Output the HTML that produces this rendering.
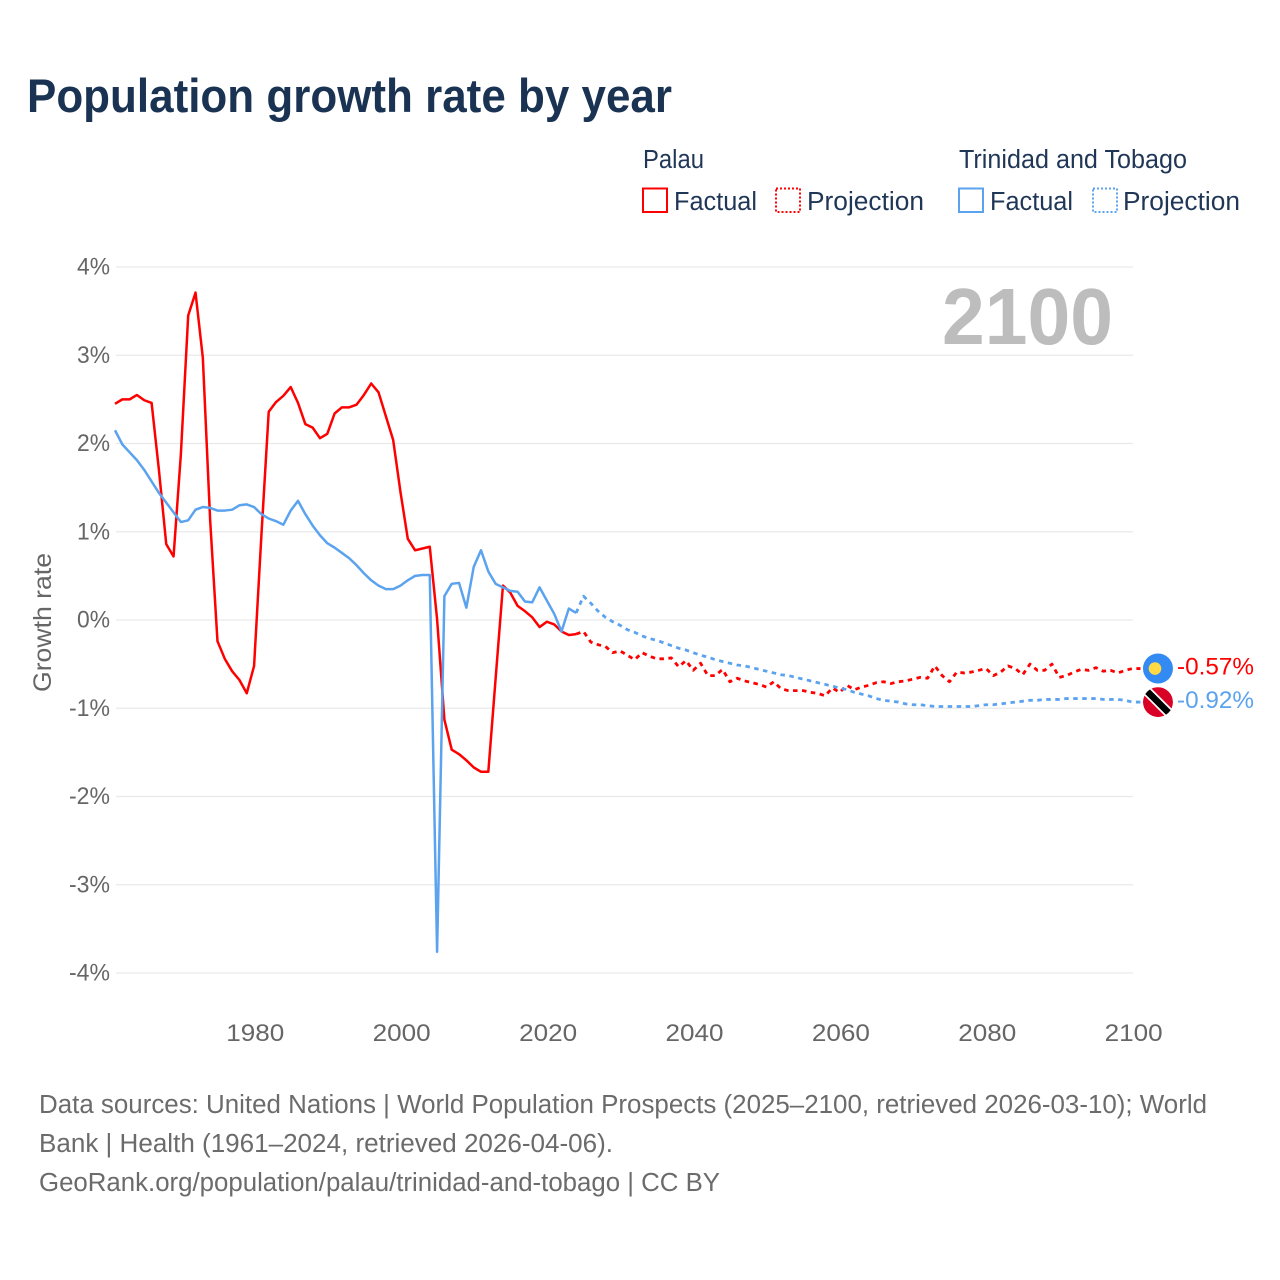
<!DOCTYPE html>
<html lang="en">
<head>
<meta charset="utf-8">
<title>Population growth rate by year</title>
<style>
html,body{margin:0;padding:0;background:#fff;width:1280px;height:1280px;overflow:hidden}
svg{display:block;font-family:"Liberation Sans",sans-serif}
</style>
</head>
<body>
<svg id="chart" xmlns="http://www.w3.org/2000/svg" width="1280" height="1280" viewBox="0 0 1280 1280">
  <rect x="0" y="0" width="1280" height="1280" fill="#ffffff"/>
  <text x="27" y="112" font-size="47" font-weight="700" fill="#1a3353" textLength="645" lengthAdjust="spacingAndGlyphs">Population growth rate by year</text>

  <g font-size="25.5" fill="#1f3656">
    <text x="643" y="168" textLength="61" lengthAdjust="spacingAndGlyphs">Palau</text>
    <text x="959" y="168" textLength="228" lengthAdjust="spacingAndGlyphs">Trinidad and Tobago</text>
    <g>
      <rect x="643" y="188.500" width="24" height="23.500" fill="none" stroke="#ff0000" stroke-width="2"/>
      <text x="674" y="210" textLength="83" lengthAdjust="spacingAndGlyphs">Factual</text>
    </g>
    <g>
      <rect x="776" y="188.500" width="24" height="23.500" fill="none" stroke="#ff0000" stroke-width="2" stroke-dasharray="2 2"/>
      <text x="807" y="210" textLength="117" lengthAdjust="spacingAndGlyphs">Projection</text>
    </g>
    <g>
      <rect x="959" y="188.500" width="24" height="23.500" fill="none" stroke="#5ba3ee" stroke-width="2"/>
      <text x="990" y="210" textLength="83" lengthAdjust="spacingAndGlyphs">Factual</text>
    </g>
    <g>
      <rect x="1093" y="188.500" width="24" height="23.500" fill="none" stroke="#5ba3ee" stroke-width="2" stroke-dasharray="2 2"/>
      <text x="1123" y="210" textLength="117" lengthAdjust="spacingAndGlyphs">Projection</text>
    </g>
  </g>

  <g id="grid"></g>
  <g id="yticks" font-size="24" fill="#666666"></g>
  <g id="xticks" font-size="24" fill="#666666"></g>
  <text transform="translate(51 692) rotate(-90)" font-size="25" fill="#666666" textLength="139" lengthAdjust="spacingAndGlyphs">Growth rate</text>
  <text x="942" y="344" font-size="80" font-weight="700" fill="#bdbdbd" textLength="171" lengthAdjust="spacingAndGlyphs">2100</text>

  <g id="series"></g>

  <g id="end-markers"></g>

  <g font-size="25.500" fill="#6b6b6b">
    <text x="39" y="1113" textLength="1168" lengthAdjust="spacingAndGlyphs">Data sources: United Nations | World Population Prospects (2025–2100, retrieved 2026-03-10); World</text>
    <text x="39" y="1152" textLength="574" lengthAdjust="spacingAndGlyphs">Bank | Health (1961–2024, retrieved 2026-04-06).</text>
    <text x="39" y="1191" textLength="681" lengthAdjust="spacingAndGlyphs">GeoRank.org/population/palau/trinidad-and-tobago | CC BY</text>
  </g>
</svg>
<script>
const factualStartYear = 1961;
const projectionStartYear = 2025;
const xTickYears = [1980, 2000, 2020, 2040, 2060, 2080, 2100];
const yTickValues = [4, 3, 2, 1, 0, -1, -2, -3, -4];

const palauFactual = [
  2.45,2.50,2.50,2.55,2.49,2.46,1.70,0.86,0.72,1.88,
  3.45,3.71,2.97,1.13,-0.24,-0.44,-0.58,-0.68,-0.83,-0.52,
  0.96,2.36,2.47,2.54,2.64,2.46,2.22,2.18,2.06,2.11,
  2.34,2.41,2.41,2.44,2.55,2.68,2.58,2.31,2.04,1.45,
  0.92,0.79,0.81,0.83,0.01,-1.13,-1.47,-1.52,-1.59,-1.67,
  -1.72,-1.72,-0.66,0.39,0.31,0.16,0.10,0.03,-0.08,-0.02,
  -0.05,-0.13,-0.17,-0.16
];
const palauProjection = [
  -0.13,-0.25,-0.28,-0.30,-0.37,-0.35,-0.40,-0.45,-0.37,-0.41,
  -0.44,-0.44,-0.43,-0.53,-0.46,-0.57,-0.49,-0.63,-0.63,-0.56,
  -0.70,-0.66,-0.69,-0.71,-0.73,-0.76,-0.70,-0.78,-0.80,-0.80,
  -0.80,-0.82,-0.83,-0.86,-0.77,-0.82,-0.74,-0.79,-0.76,-0.74,
  -0.71,-0.70,-0.72,-0.70,-0.69,-0.67,-0.65,-0.66,-0.52,-0.63,
  -0.70,-0.59,-0.60,-0.59,-0.57,-0.55,-0.63,-0.59,-0.52,-0.55,
  -0.62,-0.50,-0.57,-0.57,-0.50,-0.65,-0.63,-0.59,-0.56,-0.57,
  -0.54,-0.58,-0.57,-0.60,-0.57,-0.55
];
const ttFactual = [
  2.15,1.99,1.90,1.81,1.70,1.57,1.44,1.33,1.22,1.11,
  1.13,1.25,1.28,1.27,1.24,1.24,1.25,1.30,1.31,1.28,
  1.20,1.15,1.12,1.08,1.24,1.35,1.20,1.07,0.96,0.87,
  0.82,0.76,0.70,0.62,0.53,0.45,0.39,0.35,0.35,0.39,
  0.45,0.50,0.51,0.51,-3.76,0.27,0.41,0.42,0.14,0.60,
  0.79,0.55,0.41,0.37,0.33,0.32,0.21,0.20,0.37,0.22,
  0.07,-0.13,0.13,0.08
];
const ttProjection = [
  0.27,0.19,0.10,0.03,-0.02,-0.06,-0.11,-0.14,-0.18,-0.21,
  -0.23,-0.26,-0.29,-0.32,-0.34,-0.37,-0.40,-0.42,-0.45,-0.47,
  -0.49,-0.51,-0.52,-0.54,-0.56,-0.58,-0.60,-0.62,-0.63,-0.65,
  -0.67,-0.69,-0.71,-0.73,-0.75,-0.77,-0.79,-0.82,-0.84,-0.86,
  -0.89,-0.91,-0.92,-0.93,-0.95,-0.96,-0.96,-0.97,-0.98,-0.98,
  -0.98,-0.98,-0.98,-0.98,-0.97,-0.96,-0.96,-0.95,-0.94,-0.93,
  -0.92,-0.91,-0.91,-0.90,-0.90,-0.90,-0.89,-0.89,-0.89,-0.89,
  -0.89,-0.90,-0.90,-0.90,-0.91,-0.93
];
const palauEndLabel = '-0.57%';
const ttEndLabel = '-0.92%';

const SVGNS = 'http://www.w3.org/2000/svg';
function xScale(year) { return 115 + (year - 1961) * 7.32; }
function yScale(value) { return 620 - value * 88.25; }
function make(tag, attrs, parent) {
  const el = document.createElementNS(SVGNS, tag);
  for (const k in attrs) el.setAttribute(k, attrs[k]);
  parent.appendChild(el);
  return el;
}
function pathFrom(startYear, values) {
  return values.map((v, i) => (i ? 'L' : 'M') + xScale(startYear + i).toFixed(2) + ' ' + yScale(v).toFixed(2)).join(' ');
}

const gridG = document.getElementById('grid');
const yG = document.getElementById('yticks');
yTickValues.forEach(function (v) {
  const line = make('line', {x1: 116, x2: 1133, y1: yScale(v), y2: yScale(v), stroke: '#e9e9e9', 'stroke-width': 1.3}, gridG);
  
  
  const t = make('text', {x: 110, y: yScale(v) + 7.5, 'text-anchor': 'end', textLength: v < 0 ? 41 : 33, lengthAdjust: 'spacingAndGlyphs'}, yG);
  
  
  t.textContent = v + '%';
});

const xG = document.getElementById('xticks');
xTickYears.forEach(function (yr) {
  const t = make('text', {x: xScale(yr) + 1.2, y: 1041, 'text-anchor': 'middle', textLength: 58, lengthAdjust: 'spacingAndGlyphs'}, xG);
  
  
  t.textContent = yr;
});

const seriesG = document.getElementById('series');
function drawSeries(key, color, factual, projection) {
  const solid = make('path', {d: pathFrom(factualStartYear, factual), fill: 'none', stroke: color, 'stroke-width': 2.5, 'stroke-linejoin': 'round'}, seriesG);
  
  
  const lastFactual = factual[factual.length - 1];
  const joined = [lastFactual].concat(projection);
  const lastValue = projection[projection.length - 1];
  const d = pathFrom(projectionStartYear - 1, joined) + ' L' + (xScale(projectionStartYear + projection.length - 1) + 8).toFixed(2) + ' ' + yScale(lastValue).toFixed(2);
  const dashed = make('path', {d: d, fill: 'none', stroke: color, 'stroke-width': 2.8, 'stroke-dasharray': '4.5 4.5', 'stroke-linejoin': 'round'}, seriesG);
  
  
}
drawSeries('palau', '#ff0000', palauFactual, palauProjection);
drawSeries('trinidad-and-tobago', '#5ba3ee', ttFactual, ttProjection);

const endG = document.getElementById('end-markers');
const palauY = yScale(palauProjection[palauProjection.length - 1]);
const ttY = yScale(ttProjection[ttProjection.length - 1]);
const flagX = xScale(2100) + 25.5;

const defs = make('defs', {}, endG);
const clip = make('clipPath', {id: 'tt-clip'}, defs);
make('circle', {cx: flagX, cy: ttY, r: 15}, clip);

const palauFlag = make('g', {}, endG);


make('circle', {cx: flagX, cy: palauY, r: 15, fill: '#338af3'}, palauFlag);
make('circle', {cx: flagX - 3, cy: palauY, r: 6.3, fill: '#ffda44'}, palauFlag);

const ttFlag = make('g', {'clip-path': 'url(#tt-clip)'}, endG);


make('circle', {cx: flagX, cy: ttY, r: 15, fill: '#d80027'}, ttFlag);
make('line', {x1: flagX - 16, y1: ttY - 16, x2: flagX + 16, y2: ttY + 16, stroke: '#ffffff', 'stroke-width': 10}, ttFlag);
make('line', {x1: flagX - 16, y1: ttY - 16, x2: flagX + 16, y2: ttY + 16, stroke: '#000000', 'stroke-width': 6.5}, ttFlag);

const palauLabel = make('text', {x: 1177, y: palauY + 6, 'font-size': 24.5, fill: '#ff0000', textLength: 77, lengthAdjust: 'spacingAndGlyphs'}, endG);


palauLabel.textContent = palauEndLabel;

const ttLabel = make('text', {x: 1177, y: ttY + 6, 'font-size': 24.5, fill: '#5ba3ee', textLength: 77, lengthAdjust: 'spacingAndGlyphs'}, endG);


ttLabel.textContent = ttEndLabel;
</script>
</body>
</html>
